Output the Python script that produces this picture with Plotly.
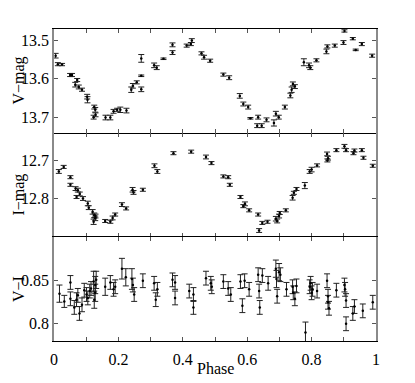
import plotly.graph_objects as go
from plotly.subplots import make_subplots

# ---- V-band ----
v_phase = [0.005, 0.012, 0.025, 0.050, 0.056, 0.066, 0.072, 0.077, 0.087, 0.103, 0.104,
           0.123, 0.125, 0.128, 0.129, 0.160, 0.175, 0.185, 0.196, 0.206, 0.225, 0.240,
           0.245, 0.257, 0.271, 0.271, 0.271, 0.311, 0.319, 0.340, 0.368, 0.368, 0.412,
           0.425, 0.428, 0.458, 0.466, 0.485, 0.526, 0.544, 0.577, 0.588, 0.603, 0.610,
           0.631, 0.634, 0.645, 0.660, 0.683, 0.689, 0.698, 0.717, 0.734, 0.738, 0.742,
           0.748, 0.776, 0.792, 0.796, 0.815, 0.846, 0.849, 0.872, 0.899, 0.902, 0.928,
           0.937, 0.956, 0.988]
v_mag = [13.540, 13.562, 13.563, 13.590, 13.590, 13.615, 13.603, 13.621, 13.628, 13.646, 13.654,
         13.699, 13.673, 13.680, 13.693, 13.700, 13.700, 13.684, 13.680, 13.680, 13.682, 13.628,
         13.618, 13.609, 13.547, 13.592, 13.627, 13.565, 13.571, 13.548, 13.532, 13.512, 13.514,
         13.510, 13.501, 13.534, 13.544, 13.553, 13.589, 13.597, 13.644, 13.665, 13.673, 13.702,
         13.721, 13.699, 13.721, 13.706, 13.714, 13.690, 13.699, 13.673, 13.643, 13.628, 13.613,
         13.620, 13.557, 13.565, 13.571, 13.552, 13.529, 13.516, 13.514, 13.506, 13.476, 13.496,
         13.525, 13.510, 13.540]
v_err = [0.006, 0.004, 0.003, 0.004, 0.004, 0.006, 0.004, 0.005, 0.004, 0.006, 0.008,
         0.005, 0.005, 0.006, 0.005, 0.006, 0.006, 0.005, 0.004, 0.007, 0.006, 0.007,
         0.006, 0.004, 0.010, 0.002, 0.006, 0.006, 0.005, 0.002, 0.005, 0.005, 0.004,
         0.004, 0.005, 0.004, 0.005, 0.004, 0.004, 0.005, 0.006, 0.005, 0.005, 0.002,
         0.005, 0.005, 0.005, 0.005, 0.008, 0.006, 0.005, 0.005, 0.006, 0.007, 0.005,
         0.005, 0.009, 0.006, 0.005, 0.004, 0.006, 0.004, 0.004, 0.005, 0.003, 0.003,
         0.002, 0.004, 0.004]

# ---- I-band ----
i_phase = [0.015, 0.030, 0.051, 0.051, 0.067, 0.070, 0.074, 0.080, 0.090, 0.105, 0.108,
           0.120, 0.123, 0.125, 0.128, 0.129, 0.159, 0.175, 0.182, 0.190, 0.211, 0.224,
           0.244, 0.247, 0.276, 0.312, 0.321, 0.371, 0.426, 0.472, 0.489, 0.526, 0.541,
           0.546, 0.579, 0.588, 0.593, 0.606, 0.634, 0.637, 0.647, 0.663, 0.689, 0.693,
           0.699, 0.701, 0.720, 0.741, 0.745, 0.753, 0.779, 0.794, 0.800, 0.817, 0.848,
           0.849, 0.851, 0.877, 0.902, 0.907, 0.930, 0.933, 0.956, 0.961, 0.990]
i_mag = [12.729, 12.717, 12.744, 12.764, 12.774, 12.796, 12.778, 12.788, 12.800, 12.813, 12.824,
         12.835, 12.861, 12.844, 12.852, 12.846, 12.859, 12.861, 12.851, 12.842, 12.816, 12.826,
         12.777, 12.784, 12.777, 12.714, 12.729, 12.681, 12.677, 12.691, 12.707, 12.742, 12.744,
         12.764, 12.796, 12.820, 12.814, 12.831, 12.842, 12.884, 12.864, 12.861, 12.853, 12.859,
         12.846, 12.838, 12.831, 12.798, 12.785, 12.775, 12.766, 12.729, 12.724, 12.713, 12.683,
         12.700, 12.694, 12.673, 12.663, 12.673, 12.681, 12.674, 12.673, 12.693, 12.714]
i_err = [0.005, 0.004, 0.004, 0.004, 0.005, 0.004, 0.005, 0.005, 0.005, 0.006, 0.005,
         0.006, 0.007, 0.006, 0.006, 0.005, 0.004, 0.004, 0.005, 0.004, 0.005, 0.004,
         0.006, 0.005, 0.004, 0.005, 0.005, 0.004, 0.004, 0.005, 0.004, 0.004, 0.004,
         0.004, 0.004, 0.004, 0.005, 0.004, 0.004, 0.005, 0.004, 0.004, 0.006, 0.005,
         0.005, 0.004, 0.004, 0.006, 0.004, 0.004, 0.008, 0.005, 0.006, 0.004, 0.005,
         0.004, 0.005, 0.004, 0.005, 0.004, 0.004, 0.004, 0.004, 0.004, 0.004]

# ---- V-I colour ----
c_phase = [0.017, 0.032, 0.051, 0.051, 0.063, 0.070, 0.074, 0.079, 0.087, 0.094, 0.101,
           0.105, 0.111, 0.115, 0.123, 0.125, 0.128, 0.128, 0.131, 0.159, 0.175, 0.185,
           0.190, 0.211, 0.223, 0.242, 0.245, 0.249, 0.276, 0.311, 0.316, 0.321, 0.368,
           0.376, 0.376, 0.420, 0.433, 0.433, 0.472, 0.487, 0.490, 0.526, 0.541, 0.549,
           0.579, 0.585, 0.592, 0.606, 0.634, 0.637, 0.639, 0.647, 0.665, 0.689, 0.691,
           0.693, 0.699, 0.703, 0.722, 0.741, 0.743, 0.748, 0.753, 0.781, 0.794, 0.797,
           0.800, 0.803, 0.817, 0.848, 0.851, 0.851, 0.854, 0.877, 0.902, 0.904, 0.907,
           0.907, 0.928, 0.933, 0.959, 0.990]
c_vi = [0.835, 0.826, 0.848, 0.829, 0.819, 0.828, 0.833, 0.812, 0.822, 0.839, 0.834,
        0.830, 0.838, 0.841, 0.849, 0.828, 0.845, 0.836, 0.851, 0.843, 0.848, 0.840,
        0.843, 0.864, 0.854, 0.852, 0.845, 0.834, 0.850, 0.847, 0.828, 0.840, 0.851,
        0.848, 0.830, 0.838, 0.834, 0.819, 0.853, 0.847, 0.843, 0.849, 0.841, 0.834,
        0.849, 0.821, 0.850, 0.840, 0.857, 0.838, 0.819, 0.856, 0.847, 0.864, 0.852,
        0.832, 0.860, 0.857, 0.840, 0.843, 0.836, 0.829, 0.844, 0.790, 0.843, 0.847,
        0.836, 0.840, 0.838, 0.850, 0.825, 0.832, 0.818, 0.839, 0.845, 0.840, 0.800,
        0.827, 0.812, 0.820, 0.815, 0.825]
c_err = [0.010, 0.007, 0.008, 0.008, 0.008, 0.008, 0.008, 0.008, 0.008, 0.008, 0.008,
         0.008, 0.008, 0.008, 0.012, 0.010, 0.010, 0.010, 0.010, 0.010, 0.008, 0.008,
         0.008, 0.012, 0.010, 0.012, 0.008, 0.008, 0.008, 0.008, 0.008, 0.008, 0.008,
         0.008, 0.008, 0.008, 0.008, 0.008, 0.008, 0.008, 0.008, 0.008, 0.008, 0.008,
         0.008, 0.008, 0.008, 0.008, 0.008, 0.008, 0.008, 0.008, 0.008, 0.010, 0.010,
         0.008, 0.010, 0.008, 0.008, 0.008, 0.008, 0.008, 0.008, 0.012, 0.008, 0.008,
         0.008, 0.008, 0.008, 0.008, 0.008, 0.008, 0.008, 0.008, 0.008, 0.008, 0.008,
         0.008, 0.008, 0.008, 0.008, 0.008]

x_tickvals = [0, 0.1, 0.2, 0.3, 0.4, 0.5, 0.6, 0.7, 0.8, 0.9, 1.0]
x_ticktext = ["0", "", "0.2", "", "0.4", "", "0.6", "", "0.8", "", "1"]
y_titles = ["V\u2212mag", "I\u2212mag", "V\u2212I"]
x_title = "Phase"

FONT = "Liberation Serif"

fig = make_subplots(rows=3, cols=1, shared_xaxes=True, vertical_spacing=0)

def add(x, y, e, row):
    fig.add_trace(go.Scatter(
        x=x, y=y, mode="markers",
        marker=dict(color="black", size=2.5),
        error_y=dict(type="data", array=e, visible=True, color="#222222",
                     thickness=1, width=3),
        showlegend=False), row=row, col=1)

add(v_phase, v_mag, v_err, 1)
add(i_phase, i_mag, i_err, 2)
add(c_phase, c_vi, c_err, 3)

for r in (1, 2, 3):
    fig.update_xaxes(range=[0, 1], tickvals=x_tickvals, ticktext=x_ticktext,
                     ticks="inside", ticklen=4, tickcolor="#555555",
                     showline=(r != 2), linecolor="black", linewidth=1, mirror="ticks",
                     showgrid=False, zeroline=False, automargin=False,
                     ticklabelstandoff=4,
                     showticklabels=(r == 3), row=r, col=1)

yax_common = dict(ticks="inside", ticklen=4, tickcolor="#555555",
                  showline=True, linecolor="#8a8a8a", linewidth=1.5, mirror="ticks",
                  showgrid=False, zeroline=False, automargin=False)

fig.update_yaxes(range=[13.74, 13.471], tickvals=[13.5, 13.6, 13.7],
                 ticktext=["13.5", "13.6", "13.7"], row=1, col=1, **yax_common)
fig.update_yaxes(range=[12.901, 12.628], tickvals=[12.7, 12.8],
                 ticktext=["12.7", "12.8"], row=2, col=1, **yax_common)
fig.update_yaxes(range=[0.780, 0.9008], tickvals=[0.8, 0.85],
                 ticktext=["0.8", "0.85"], row=3, col=1, **yax_common)

# axis titles as annotations (paper coordinates)
centers = [5 / 6, 0.468, 0.165]
for txt, yc in zip(y_titles, centers):
    fig.add_annotation(text=txt, xref="paper", yref="paper", x=-0.11, y=yc,
                       textangle=-90, showarrow=False, xanchor="center", yanchor="middle",
                       font=dict(family=FONT, size=16, color="black"))
fig.add_annotation(text=x_title, xref="paper", yref="paper", x=0.5, y=-0.087,
                   showarrow=False, xanchor="center", yanchor="middle",
                   font=dict(family=FONT, size=16, color="black"))

fig.update_layout(
    width=407, height=375,
    margin=dict(l=46, r=39, t=21, b=42),
    paper_bgcolor="white", plot_bgcolor="white",
    font=dict(family=FONT, size=16, color="black"),
)

fig.write_html("out.html")
